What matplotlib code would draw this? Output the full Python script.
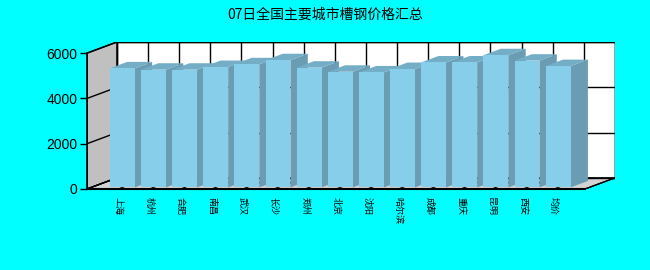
import matplotlib
matplotlib.use("Agg")
import matplotlib.pyplot as plt
from matplotlib.patches import Polygon

plt.rcParams['font.family'] = ['Noto Sans CJK SC', 'DejaVu Sans']

title = "07日全国主要城市槽钢价格汇总"
cities = ["上海", "杭州", "合肥", "南昌", "武汉", "长沙", "郑州", "北京", "沈阳",
          "哈尔滨", "成都", "重庆", "昆明", "西安", "均价"]
prices = [5260, 5200, 5200, 5320, 5440, 5620, 5290, 5110, 5080,
          5230, 5520, 5520, 5840, 5600, 5360]
yticks = [0, 2000, 4000, 6000]

W, H = 650, 270
fig = plt.figure(figsize=(W / 100, H / 100), dpi=100, facecolor="#00FFFF")

# pixel geometry of the 3D box
x0_px, x1_px = 87, 615
ytop_px, ybot_px = 42, 189
ax = fig.add_axes([x0_px / W, 1 - ybot_px / H, (x1_px - x0_px) / W, (ybot_px - ytop_px) / H])
ax.set_facecolor("none")

n_slots = len(cities) + 1
px_per_x = (585 - 87) / n_slots
D = 30 / px_per_x
ymax = 6000
px_per_y = (189 - 55) / ymax
Dy = 11 / px_per_y
ax.set_xlim(0, n_slots + D)
ax.set_ylim(0, ymax + Dy)

for s in ax.spines.values():
    s.set_visible(False)

# left wall
ax.add_patch(Polygon([(0, 0), (D, Dy), (D, ymax + Dy), (0, ymax)], closed=True,
                     facecolor="#C0C0C0", edgecolor="black", lw=1, zorder=1))
# back wall
ax.add_patch(Polygon([(D, Dy), (n_slots + D, Dy), (n_slots + D, ymax + Dy), (D, ymax + Dy)],
                     closed=True, facecolor="white", edgecolor="black", lw=1, zorder=1))
# floor
ax.add_patch(Polygon([(0, 0), (n_slots, 0), (n_slots + D, Dy), (D, Dy)], closed=True,
                     facecolor="#D3D3D3", edgecolor="black", lw=1, zorder=1))

# grid lines
for v in yticks:
    ax.plot([0, D], [v, v + Dy], color="black", lw=1, zorder=2)
    ax.plot([D, n_slots + D], [v + Dy, v + Dy], color="black", lw=1, zorder=2)
for k in range(n_slots + 1):
    ax.plot([k + D, k + D], [Dy, ymax + Dy], color="black", lw=1, zorder=2)
    ax.plot([k, k + D], [0, Dy], color="black", lw=0.8, zorder=2)

# bars
w = 0.8
f0, f1 = 0.14, 0.72
dD = (f1 - f0) * D
dDy = (f1 - f0) * Dy
z = 3
for i, v in enumerate(prices):
    k = i + 1
    xl = k - w / 2 + f0 * D
    xr = k + w / 2 + f0 * D
    yb = f0 * Dy
    yt = v + f0 * Dy
    ax.add_patch(Polygon([(xr, yb), (xr + dD, yb + dDy), (xr + dD, yt + dDy), (xr, yt)],
                         closed=True, facecolor="#6A9CB3", edgecolor="none", zorder=z))
    ax.add_patch(Polygon([(xl, yt), (xr, yt), (xr + dD, yt + dDy), (xl + dD, yt + dDy)],
                         closed=True, facecolor="#73AEC6", edgecolor="none", zorder=z))
    ax.add_patch(Polygon([(xl, yb), (xr, yb), (xr, yt), (xl, yt)],
                         closed=True, facecolor="#87CEEB", edgecolor="none", zorder=z))
    z += 1

# front axes lines
ax.plot([0, 0], [0, ymax], color="black", lw=1.2, zorder=50, clip_on=False)
ax.plot([0, n_slots], [0, 0], color="black", lw=1.5, zorder=50, clip_on=False)

ax.set_yticks(yticks)
ax.set_yticklabels([str(v) for v in yticks], fontsize=10, family=['Liberation Sans', 'DejaVu Sans'])
ax.tick_params(axis="y", length=5, width=1, pad=2, colors="black")
ax.set_xticks(range(1, len(cities) + 1))
ax.set_xticklabels(cities, rotation=270, fontsize=6.5)
ax.tick_params(axis="x", length=0, pad=6)

fig.text(325 / W, 1 - 15 / H, title, ha="center", va="center", fontsize=10, color="black")

fig.savefig("out.png", dpi=100, facecolor=fig.get_facecolor())
